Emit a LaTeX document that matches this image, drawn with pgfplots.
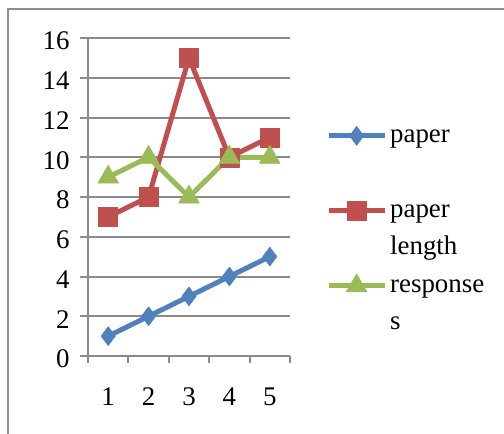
\documentclass[border=0pt]{standalone}
\usepackage{fontspec}
\setmainfont{Liberation Serif}
\usepackage{pgfplots}
\pgfplotsset{compat=1.18}

\definecolor{seriesblue}{HTML}{4F81BD}
\definecolor{seriesred}{HTML}{C0504D}
\definecolor{seriesgreen}{HTML}{9BBB59}
\definecolor{gridgray}{HTML}{8A8A8A}
\definecolor{framegray}{HTML}{8C8C8C}

\begin{document}
\begin{tikzpicture}[font=\fontsize{27}{32}\selectfont]
  % page extent and the chart-area frame (top and left edges)
  \useasboundingbox (0bp,-434bp) rectangle (504bp,0bp);
  \draw[framegray, line width=1.8bp] (8bp,-434bp) -- (8bp,-9bp) -- (504bp,-9bp);

  \begin{axis}[
    at={(88bp,-356bp)}, anchor=south west,
    scale only axis, width=202bp, height=318bp,
    xmin=0.5, xmax=5.5, ymin=0, ymax=16,
    axis x line*=bottom, axis y line*=left,
    axis line style={draw=gridgray, line width=2bp},
    xtick={1,2,3,4,5},
    minor xtick={0.5,1.5,2.5,3.5,4.5,5.5},
    ytick={0,2,...,16},
    tick align=outside,
    major tick length=8bp, minor tick length=7bp,
    tick style={draw=gridgray, line width=2bp},
    major x tick style={draw=none},
    ymajorgrids,
    major grid style={draw=gridgray, line width=2bp},
    /pgf/number format/assume math mode=true,
    every tick label/.append style={font=\fontsize{27}{32}\selectfont},
    yticklabel style={xshift=-7bp, yshift=-3bp},
    xticklabel style={yshift=-20.5bp},
    clip=false,
    legend cell align=left,
    legend style={at={(rel axis cs:1.178,0.733)}, anchor=north west,
      draw=none, fill=none, inner sep=0pt, row sep=12bp, column sep=3bp,
      nodes={inner sep=0pt, text height=19bp, text depth=6.5bp,
             font=\fontsize{27}{32}\selectfont}},
    legend image code/.code={%
      \draw[mark repeat=2, mark phase=2, #1]
        plot coordinates {(0bp,0bp) (28bp,0bp) (56bp,0bp)};},
    every axis plot/.append style={line width=5bp, line join=round},
  ]
    \addplot[seriesblue, mark=diamond*, mark size=9.5bp,
             mark options={solid, line width=0.5bp}]
      coordinates {(1,1) (2,2) (3,3) (4,4) (5,5)};
    \addlegendentry{paper}
    \addlegendimage{empty legend}
    \addlegendentry{}

    \addplot[seriesred, mark=square*, mark size=9.5bp,
             mark options={solid, line width=0.5bp}]
      coordinates {(1,7) (2,8) (3,15) (4,10) (5,11)};
    \addlegendentry{paper}
    \addlegendimage{empty legend}
    \addlegendentry{length}

    \addplot[seriesgreen, mark=triangle*, mark size=12bp,
             mark options={solid, line width=0.5bp}]
      coordinates {(1,9) (2,10) (3,8) (4,10) (5,10)};
    \addlegendentry{response}
    \addlegendimage{empty legend}
    \addlegendentry{s}
  \end{axis}
\end{tikzpicture}
\end{document}
